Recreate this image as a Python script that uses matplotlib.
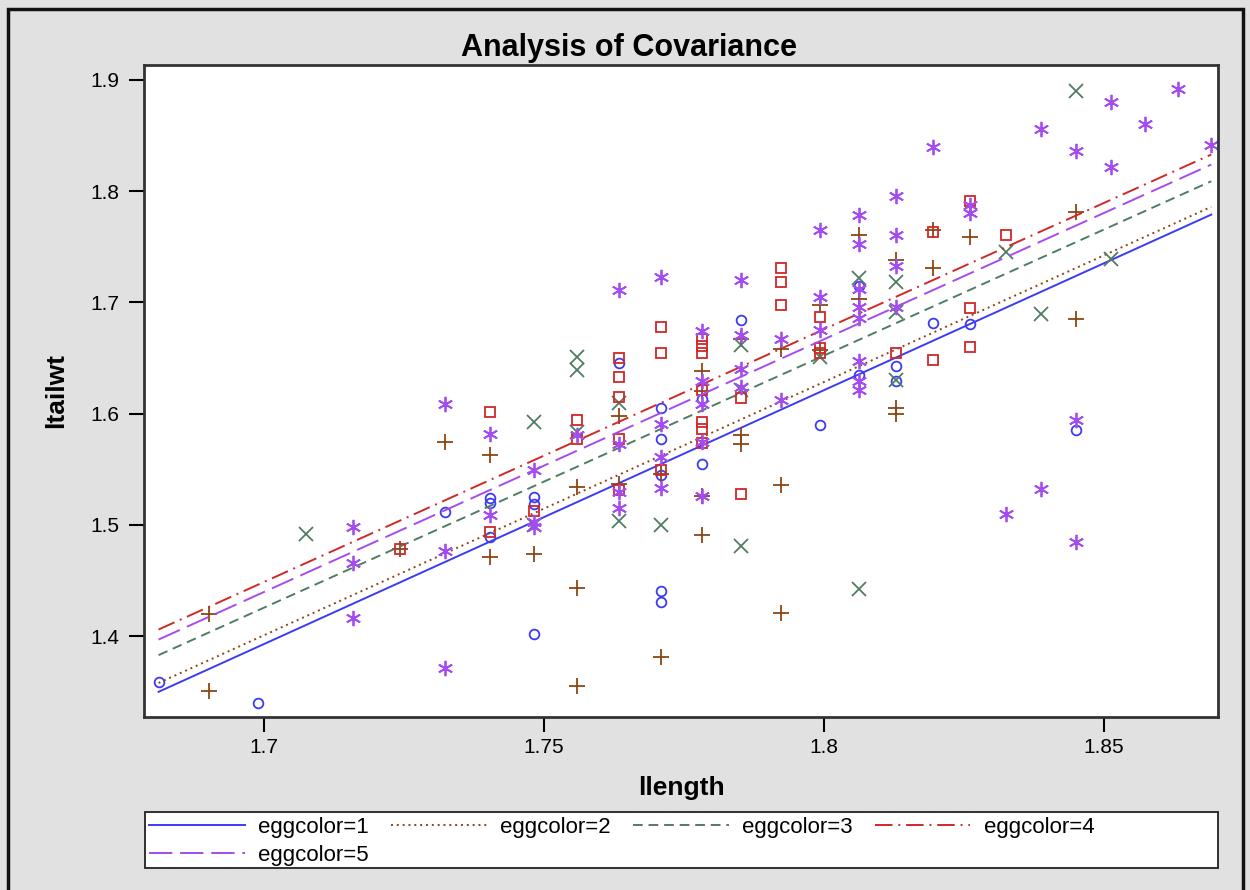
"""plot.py — Analysis of Covariance scatter (ltailwt vs llength by eggcolor)."""

import matplotlib
matplotlib.use("Agg")
import matplotlib.pyplot as plt
from matplotlib.patches import Rectangle

plt.rcParams["font.family"] = ["Liberation Sans", "DejaVu Sans"]

# ---------------------------------------------------------------------------
# Data
# ---------------------------------------------------------------------------

x1 = [1.6812, 1.6990, 1.7324, 1.7404, 1.7404, 1.7404, 1.7482, 1.7482, 1.7482,
      1.7634, 1.7709, 1.7709, 1.7709, 1.7709, 1.7709, 1.7782, 1.7782, 1.7853,
      1.7993, 1.8062, 1.8062, 1.8129, 1.8129, 1.8195, 1.8261, 1.8451]
y1 = [1.359, 1.340, 1.512, 1.524, 1.520, 1.489, 1.525, 1.519, 1.402,
      1.646, 1.605, 1.577, 1.545, 1.441, 1.431, 1.613, 1.555, 1.684,
      1.590, 1.715, 1.635, 1.643, 1.629, 1.682, 1.681, 1.585]

x2 = [1.6902, 1.6902, 1.7243, 1.7324, 1.7404, 1.7404, 1.7482, 1.7559, 1.7559,
      1.7559, 1.7634, 1.7634, 1.7709, 1.7709, 1.7782, 1.7782, 1.7782, 1.7782,
      1.7853, 1.7853, 1.7853, 1.7924, 1.7924, 1.7924, 1.7993, 1.7993, 1.8062,
      1.8062, 1.8129, 1.8129, 1.8129, 1.8195, 1.8195, 1.8261, 1.8451, 1.8451]
y2 = [1.420, 1.351, 1.478, 1.575, 1.563, 1.471, 1.474, 1.534, 1.443,
      1.355, 1.598, 1.537, 1.546, 1.381, 1.638, 1.620, 1.526, 1.491,
      1.667, 1.581, 1.573, 1.658, 1.536, 1.421, 1.698, 1.657, 1.761,
      1.703, 1.738, 1.605, 1.600, 1.765, 1.731, 1.759, 1.781, 1.685]

x3 = [1.7076, 1.7482, 1.7482, 1.7559, 1.7559, 1.7559, 1.7634, 1.7634, 1.7709,
      1.7853, 1.7853, 1.7853, 1.7993, 1.8062, 1.8062, 1.8129, 1.8129, 1.8129,
      1.8325, 1.8388, 1.8451, 1.8513]
y3 = [1.492, 1.593, 1.500, 1.651, 1.639, 1.584, 1.610, 1.504, 1.500,
      1.662, 1.621, 1.481, 1.651, 1.722, 1.442, 1.718, 1.691, 1.630,
      1.745, 1.690, 1.890, 1.739]

x4 = [1.7243, 1.7404, 1.7404, 1.7482, 1.7559, 1.7559, 1.7634, 1.7634, 1.7634,
      1.7634, 1.7634, 1.7709, 1.7709, 1.7709, 1.7782, 1.7782, 1.7782, 1.7782,
      1.7782, 1.7782, 1.7782, 1.7853, 1.7853, 1.7924, 1.7924, 1.7924, 1.7993,
      1.7993, 1.7993, 1.8129, 1.8195, 1.8195, 1.8261, 1.8261, 1.8261, 1.8325]
y4 = [1.478, 1.602, 1.494, 1.513, 1.594, 1.577, 1.650, 1.633, 1.615,
      1.577, 1.531, 1.678, 1.655, 1.549, 1.667, 1.661, 1.655, 1.621,
      1.593, 1.586, 1.574, 1.614, 1.528, 1.731, 1.718, 1.698, 1.687,
      1.659, 1.655, 1.655, 1.763, 1.648, 1.791, 1.695, 1.660, 1.761]

x5 = [1.7160, 1.7160, 1.7160, 1.7324, 1.7324, 1.7324, 1.7404, 1.7404, 1.7482,
      1.7482, 1.7482, 1.7559, 1.7634, 1.7634, 1.7634, 1.7634, 1.7709, 1.7709,
      1.7709, 1.7709, 1.7782, 1.7782, 1.7782, 1.7782, 1.7782, 1.7853, 1.7853,
      1.7853, 1.7853, 1.7924, 1.7924, 1.7993, 1.7993, 1.7993, 1.8062, 1.8062,
      1.8062, 1.8062, 1.8062, 1.8062, 1.8062, 1.8062, 1.8129, 1.8129, 1.8129,
      1.8129, 1.8195, 1.8261, 1.8261, 1.8325, 1.8388, 1.8388, 1.8451, 1.8451,
      1.8451, 1.8513, 1.8513, 1.8573, 1.8633, 1.8692]
y5 = [1.498, 1.466, 1.416, 1.609, 1.477, 1.371, 1.582, 1.509, 1.549,
      1.503, 1.498, 1.581, 1.711, 1.573, 1.530, 1.515, 1.723, 1.591,
      1.561, 1.533, 1.674, 1.629, 1.609, 1.575, 1.526, 1.720, 1.671,
      1.640, 1.624, 1.667, 1.612, 1.765, 1.705, 1.675, 1.779, 1.753,
      1.712, 1.696, 1.686, 1.647, 1.629, 1.621, 1.796, 1.761, 1.733,
      1.696, 1.840, 1.788, 1.780, 1.510, 1.856, 1.532, 1.836, 1.594,
      1.485, 1.880, 1.822, 1.860, 1.892, 1.842]

# fitted (parallel) lines: y at the smallest and largest llength
line_y_start = [1.350, 1.358, 1.383, 1.406, 1.397]
line_y_end = [1.779, 1.786, 1.809, 1.833, 1.824]

labels = ["eggcolor=1", "eggcolor=2", "eggcolor=3", "eggcolor=4", "eggcolor=5"]

# ---------------------------------------------------------------------------
# Styles
# ---------------------------------------------------------------------------

colors = ["#3b3bf5", "#8b4513", "#4f7d63", "#d02828", "#a44cf0"]
markers = ["o", "+", "x", "s", (6, 2, 0)]
msizes = [7, 11, 10, 7, 11]
linestyles = ["-", (0, (1, 2)), (0, (5, 3)), (0, (9, 3, 1, 3)), (0, (12, 4))]

xs = [x1, x2, x3, x4, x5]
ys = [y1, y2, y3, y4, y5]

# ---------------------------------------------------------------------------
# Figure
# ---------------------------------------------------------------------------

fig = plt.figure(figsize=(12.5, 8.9), dpi=100, facecolor="#e1e1e1")
fig.patches.append(Rectangle((0.0064, -0.01), 0.988, 1.0, transform=fig.transFigure,
                             fill=False, edgecolor="#111111", linewidth=2.5))

ax = fig.add_axes([0.1152, 0.1944, 0.8592, 0.7326])
ax.set_facecolor("white")

x_lo = min(min(x) for x in xs)
x_hi = max(max(x) for x in xs)

handles = []
for i in range(5):
    ax.plot(xs[i], ys[i], linestyle="none", marker=markers[i], markersize=msizes[i],
            markerfacecolor="none", markeredgecolor=colors[i], markeredgewidth=1.3)
    h, = ax.plot([x_lo, x_hi], [line_y_start[i], line_y_end[i]], color=colors[i],
                 linestyle=linestyles[i], linewidth=1.4, label=labels[i])
    handles.append(h)

ax.set_xlim(1.6786, 1.8704)
ax.set_ylim(1.3274, 1.9135)
ax.set_xticks([1.7, 1.75, 1.8, 1.85])
ax.set_xticklabels(["1.7", "1.75", "1.8", "1.85"])
ax.set_yticks([1.4, 1.5, 1.6, 1.7, 1.8, 1.9])
ax.set_yticklabels(["1.4", "1.5", "1.6", "1.7", "1.8", "1.9"])
ax.tick_params(direction="out", length=11, width=1.5, labelsize=15, pad=7)
ax.tick_params(axis="x", pad=4)

for s in ax.spines.values():
    s.set_linewidth(2)
    s.set_color("#333333")

fig.text(0.503, 0.946, "Analysis of Covariance", fontsize=22, fontweight="bold",
         ha="center", va="center")
ax.set_xlabel("llength", fontsize=19, fontweight="bold", labelpad=14)
ax.set_ylabel("ltailwt", fontsize=19, fontweight="bold", labelpad=16)

# legend: row-major order (1 2 3 4 / 5), framed box spanning the axes width
order = [0, 4, 1, 2, 3]
fig.legend(handles=[handles[k] for k in order], labels=[labels[k] for k in order],
           ncol=4, loc="upper left", bbox_to_anchor=(0.1195, 1 - 817 / 890),
           fontsize=16, handlelength=4.3, handletextpad=0.6, columnspacing=1.0,
           borderaxespad=0, borderpad=0, labelspacing=0.3, frameon=False)
fig.patches.append(Rectangle((0.116, 0.0247), 0.8584, 0.0629, transform=fig.transFigure,
                             facecolor="white", edgecolor="#222222", linewidth=1.3,
                             zorder=0))

plt.savefig("out.png", dpi=100, facecolor=fig.get_facecolor())
plt.close()
